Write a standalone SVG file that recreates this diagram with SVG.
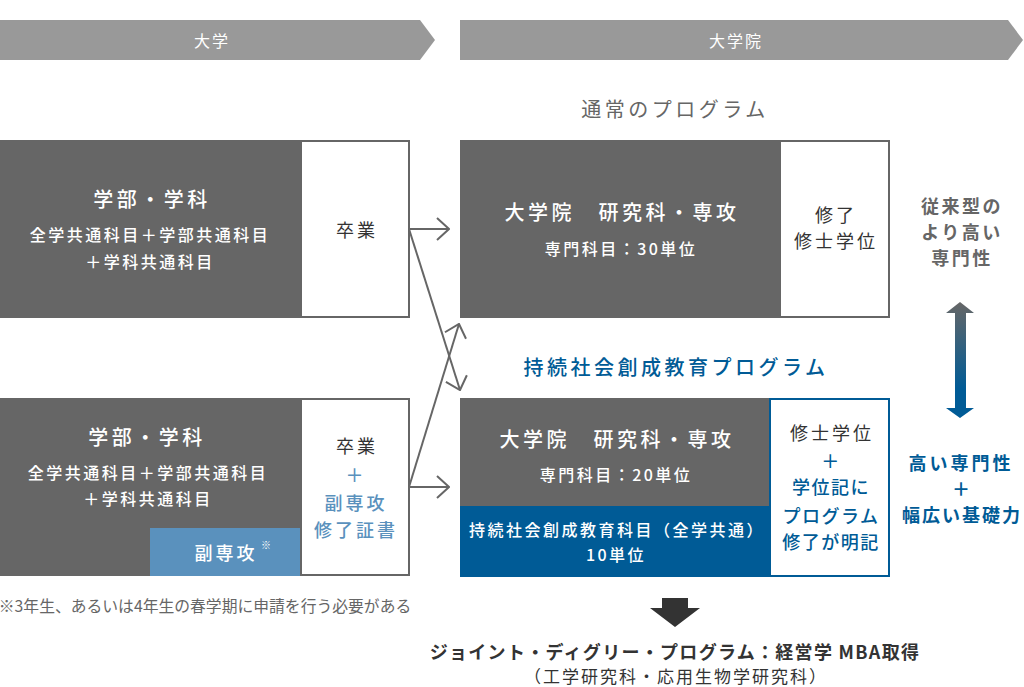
<svg xmlns="http://www.w3.org/2000/svg" width="1024" height="687" viewBox="0 0 1024 687">
<defs>
<style>
text{font-family:"Noto Sans CJK JP","Noto Sans",sans-serif;text-anchor:middle}
.hd{fill:#fff;font-size:16px;letter-spacing:2px}
.w20{fill:#fff;font-size:20px;letter-spacing:3.5px;font-weight:500}
.w16{fill:#fff;font-size:16px;letter-spacing:2.5px;font-weight:500}
.g18{fill:#333;font-size:18px;letter-spacing:3px}
.b18{fill:#005b96;font-size:18px;letter-spacing:1.5px;font-weight:500}
.lb18{fill:#5a91bd;font-size:18px;letter-spacing:3px;font-weight:500}
.conn{stroke:#666;stroke-width:2;fill:none}
</style>
<marker id="ah" viewBox="0 0 14 24" refX="13" refY="12" markerWidth="14" markerHeight="24" markerUnits="userSpaceOnUse" orient="auto">
<path d="M1,1 L13,12 L1,23" fill="none" stroke="#666" stroke-width="2"/>
</marker>
<linearGradient id="grad" x1="0" y1="0" x2="0" y2="1">
<stop offset="0" stop-color="#666"/>
<stop offset="0.75" stop-color="#005b96"/>
<stop offset="1" stop-color="#005b96"/>
</linearGradient>
</defs>

<g id="header-univ">
<path d="M0,20 H420 L435,40 L420,60 H0 Z" fill="#999"/>
<text class="hd" x="212" y="47">大学</text>
</g>
<g id="header-grad">
<path d="M460,20 H1008 L1023,40 L1008,60 H460 Z" fill="#999"/>
<text class="hd" x="736" y="47">大学院</text>
</g>

<g id="label-normal">
<text x="675" y="117" style="fill:#666;font-size:20px;letter-spacing:3.5px">通常のプログラム</text>
</g>
<g id="label-sustain">
<text x="676" y="375" style="fill:#005b96;font-size:20px;letter-spacing:3.5px;font-weight:500">持続社会創成教育プログラム</text>
</g>

<g id="undergrad-top">
<rect x="0" y="140" width="300" height="178" fill="#666"/>
<rect x="301" y="141" width="108" height="176" fill="#fff" stroke="#666" stroke-width="2"/>
<text class="w20" x="152" y="207">学部・学科</text>
<text class="w16" x="150" y="241">全学共通科目＋学部共通科目</text>
<text class="w16" x="150" y="268">＋学科共通科目</text>
<text class="g18" x="357" y="237">卒業</text>
</g>

<g id="undergrad-bottom">
<rect x="0" y="398" width="300" height="178" fill="#666"/>
<rect x="150" y="528" width="150" height="48" fill="#5a91bd"/>
<rect x="301" y="399" width="108" height="176" fill="#fff" stroke="#666" stroke-width="2"/>
<text class="w20" x="147" y="445">学部・学科</text>
<text class="w16" x="148" y="479">全学共通科目＋学部共通科目</text>
<text class="w16" x="148" y="505">＋学科共通科目</text>
<text x="226" y="560" style="fill:#fff;font-size:18px;letter-spacing:3px;font-weight:500">副専攻</text>
<text x="266" y="549" style="fill:#fff;font-size:10px">※</text>
<text class="g18" x="357" y="453">卒業</text>
<text class="lb18" x="356" y="482">＋</text>
<text class="lb18" x="356" y="510">副専攻</text>
<text class="lb18" x="356" y="537">修了証書</text>
</g>

<g id="footnote">
<text x="205" y="612" style="fill:#666;font-size:15.8px">※3年生、あるいは4年生の春学期に申請を行う必要がある</text>
</g>

<g id="grad-normal">
<rect x="460" y="140" width="320" height="178" fill="#666"/>
<rect x="780" y="141" width="109" height="176" fill="#fff" stroke="#666" stroke-width="2"/>
<text class="w20" x="622" y="220">大学院　研究科・専攻</text>
<text class="w16" x="621" y="255">専門科目：30単位</text>
<text class="g18" x="836" y="222">修了</text>
<text class="g18" x="836" y="248">修士学位</text>
</g>

<g id="grad-sustain">
<rect x="460" y="398" width="310" height="108" fill="#666"/>
<rect x="460" y="506" width="310" height="71" fill="#005b96"/>
<rect x="770" y="399" width="119" height="177" fill="#fff" stroke="#005b96" stroke-width="2"/>
<text class="w20" x="617" y="447">大学院　研究科・専攻</text>
<text class="w16" x="616" y="481">専門科目：20単位</text>
<text class="w16" x="617" y="536">持続社会創成教育科目（全学共通）</text>
<text class="w16" x="616" y="561">10単位</text>
<text class="g18" x="832" y="440">修士学位</text>
<text class="b18" x="831" y="468">＋</text>
<text class="b18" x="831" y="494">学位記に</text>
<text class="b18" x="831" y="523">プログラム</text>
<text class="b18" x="831" y="549">修了が明記</text>
</g>

<g id="compare">
<text x="962" y="213" style="fill:#666;font-size:18px;letter-spacing:2.5px;font-weight:700">従来型の</text>
<text x="962" y="239" style="fill:#666;font-size:18px;letter-spacing:2.5px;font-weight:700">より高い</text>
<text x="962" y="265" style="fill:#666;font-size:18px;letter-spacing:2.5px;font-weight:700">専門性</text>
<path d="M960,302 L974,313 H966 V408 H974 L960,418 L946,408 H955 V313 H946 Z" fill="url(#grad)"/>
<text x="961" y="470" style="fill:#005b96;font-size:18px;letter-spacing:3px;font-weight:700">高い専門性</text>
<text x="961" y="496" style="fill:#005b96;font-size:18px;font-weight:700">＋</text>
<text x="962" y="522" style="fill:#005b96;font-size:18px;letter-spacing:2px;font-weight:700">幅広い基礎力</text>
</g>

<g id="joint">
<path d="M662,598 H688 V608 H700 L675,627 L650,608 H662 Z" fill="#333"/>
<text x="675" y="659" style="fill:#333;font-size:18px;letter-spacing:1.3px;font-weight:700">ジョイント・ディグリー・プログラム：経営学 MBA取得</text>
<text x="676" y="683" style="fill:#333;font-size:17px;letter-spacing:2px">（工学研究科・応用生物学研究科）</text>
</g>

<g id="connectors">
<line class="conn" x1="409" y1="229" x2="449" y2="229" marker-end="url(#ah)"/>
<line class="conn" x1="409" y1="229" x2="460" y2="390" marker-end="url(#ah)"/>
<line class="conn" x1="409" y1="487" x2="449" y2="487" marker-end="url(#ah)"/>
<line class="conn" x1="409" y1="487" x2="459" y2="324" marker-end="url(#ah)"/>
</g>
</svg>
